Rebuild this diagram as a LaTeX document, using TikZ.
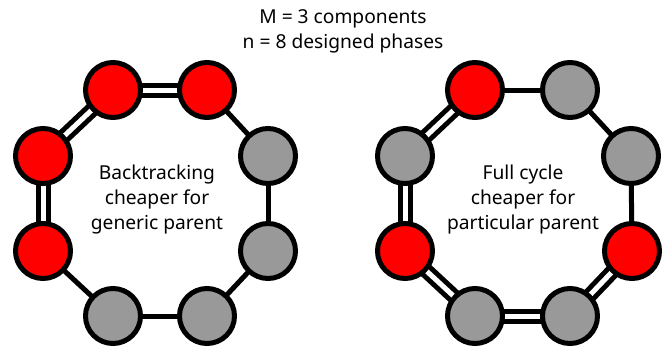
\documentclass[tikz,border=0pt]{standalone}
\usepackage{fontspec}
\setmainfont{Noto Sans}
\usetikzlibrary{backgrounds}
\definecolor{phasered}{HTML}{FF0000}
\definecolor{phasegray}{HTML}{999999}
\tikzset{
  phase/.style={circle, draw=black, line width=5pt, minimum size=55pt, inner sep=0pt},
  redphase/.style={phase, fill=phasered},
  grayphase/.style={phase, fill=phasegray},
  single/.style={line width=5pt, black},
  doubled/.style={line width=5pt, black, double=white, double distance=5pt},
  caption/.style={align=center, font=\fontsize{19.2}{25}\selectfont, inner sep=0pt},
}
\begin{document}
\begin{tikzpicture}[x=1pt, y=-1pt]
\useasboundingbox (0,0) rectangle (670,349);

% title
\node[caption] (title) at (343,31) {M = 3 components\\n = 8 designed phases};

% left ring: backtracking
\node[redphase]  (a1) at (113,90) {};
\node[redphase]  (a2) at (207,90) {};
\node[grayphase] (a3) at (268,156) {};
\node[grayphase] (a4) at (268,251) {};
\node[grayphase] (a5) at (207,316) {};
\node[grayphase] (a6) at (113,316) {};
\node[redphase]  (a7) at (43,251) {};
\node[redphase]  (a8) at (43,156) {};
\node[caption] (atext) at (157,200) {Backtracking\\cheaper for\\generic parent};

% right ring: full cycle
\node[redphase]  (b1) at (475,90) {};
\node[grayphase] (b2) at (570,90) {};
\node[grayphase] (b3) at (631,156) {};
\node[redphase]  (b4) at (632,251) {};
\node[grayphase] (b5) at (570,316) {};
\node[grayphase] (b6) at (475,316) {};
\node[redphase]  (b7) at (405,251) {};
\node[grayphase] (b8) at (405,156) {};
\node[caption] (btext) at (523,200) {Full cycle\\cheaper for\\particular parent};

\begin{scope}[on background layer]
  % left ring links
  \draw[doubled] (a1.center) -- (a2.center);
  \draw[single]  (a2.center) -- (a3.center);
  \draw[single]  (a3.center) -- (a4.center);
  \draw[single]  (a4.center) -- (a5.center);
  \draw[single]  (a5.center) -- (a6.center);
  \draw[single]  (a6.center) -- (a7.center);
  \draw[doubled] (a7.center) -- (a8.center);
  \draw[doubled] (a8.center) -- (a1.center);
  % right ring links
  \draw[single]  (b1.center) -- (b2.center);
  \draw[single]  (b2.center) -- (b3.center);
  \draw[single]  (b3.center) -- (b4.center);
  \draw[doubled] (b4.center) -- (b5.center);
  \draw[doubled] (b5.center) -- (b6.center);
  \draw[doubled] (b6.center) -- (b7.center);
  \draw[doubled] (b7.center) -- (b8.center);
  \draw[doubled] (b8.center) -- (b1.center);
\end{scope}
\end{tikzpicture}
\end{document}
